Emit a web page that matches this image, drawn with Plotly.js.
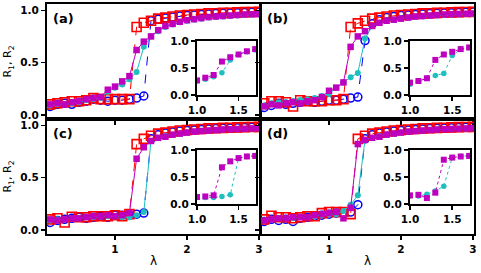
<!DOCTYPE html>
<html>
<head>
<meta charset="utf-8">
<script src="https://cdn.plot.ly/plotly-3.0.1.min.js"></script>
<style>html,body{margin:0;padding:0;background:#fff;}#chart{width:481px;height:273px;}</style>
</head>
<body>
<div id="chart"></div>
<script>
// lambda values (0.1 ... 3.0)
var lambda = [0.1,0.2,0.3,0.4,0.5,0.6,0.7,0.8,0.9,1.0,1.1,1.2,1.3,1.4,1.5,1.6,1.7,1.8,1.9,2.0,2.1,2.2,2.3,2.4,2.5,2.6,2.7,2.8,2.9,3.0];
var insetLambda = [1.0,1.1,1.2,1.3,1.4,1.5,1.6,1.7];

// panel (a)
var aBlue    = [0.08,0.10,0.11,0.10,0.12,0.13,0.15,0.14,0.13,0.14,0.14,0.15,0.16,0.18,0.90,0.915,0.925,0.935,0.945,0.95,0.955,0.96,0.965,0.968,0.971,0.974,0.977,0.979,0.981,0.983];
var aRed     = [0.10,0.11,0.12,0.13,0.13,0.14,0.16,0.15,0.15,0.15,0.15,0.15,0.84,0.88,0.90,0.92,0.93,0.94,0.95,0.955,0.96,0.965,0.97,0.972,0.975,0.977,0.98,0.982,0.984,0.985];
var aCyan    = [0.09,0.10,0.10,0.11,0.12,0.14,0.15,0.16,0.22,0.26,0.29,0.34,0.41,0.65,0.75,0.80,0.84,0.865,0.885,0.90,0.91,0.92,0.93,0.935,0.94,0.945,0.95,0.955,0.958,0.96];
var aMagenta = [0.10,0.11,0.10,0.12,0.13,0.15,0.16,0.17,0.24,0.27,0.32,0.37,0.62,0.70,0.75,0.81,0.85,0.87,0.89,0.905,0.915,0.925,0.935,0.94,0.945,0.95,0.955,0.96,0.962,0.965];

// panel (b)
var bBlue    = [0.07,0.09,0.11,0.10,0.11,0.12,0.13,0.12,0.13,0.14,0.14,0.15,0.16,0.17,0.71,0.87,0.91,0.93,0.94,0.95,0.955,0.96,0.965,0.968,0.971,0.974,0.977,0.979,0.981,0.983];
var bRed     = [0.11,0.13,0.13,0.12,0.08,0.14,0.13,0.13,0.13,0.14,0.14,0.15,0.84,0.875,0.90,0.92,0.93,0.94,0.95,0.955,0.96,0.965,0.97,0.972,0.975,0.977,0.98,0.982,0.984,0.985];
var bCyan    = [0.09,0.11,0.12,0.12,0.13,0.14,0.15,0.16,0.18,0.20,0.26,0.31,0.36,0.40,0.73,0.85,0.88,0.90,0.91,0.92,0.93,0.935,0.94,0.945,0.95,0.955,0.958,0.96,0.963,0.965];
var bMagenta = [0.08,0.10,0.09,0.11,0.12,0.11,0.13,0.14,0.17,0.23,0.26,0.31,0.65,0.75,0.80,0.85,0.88,0.90,0.91,0.92,0.93,0.94,0.945,0.95,0.955,0.96,0.963,0.965,0.967,0.97];

// panel (c)
var cBlue    = [0.07,0.09,0.10,0.11,0.12,0.11,0.12,0.13,0.12,0.14,0.14,0.14,0.15,0.16,0.87,0.91,0.925,0.935,0.945,0.95,0.955,0.96,0.965,0.968,0.971,0.974,0.977,0.979,0.981,0.983];
var cRed     = [0.10,0.11,0.07,0.125,0.12,0.12,0.13,0.13,0.13,0.14,0.13,0.15,0.82,0.87,0.90,0.92,0.93,0.94,0.95,0.955,0.96,0.965,0.97,0.972,0.975,0.977,0.98,0.982,0.984,0.985];
var cCyan    = [0.09,0.10,0.10,0.11,0.11,0.12,0.12,0.13,0.13,0.13,0.12,0.12,0.14,0.17,0.85,0.88,0.90,0.91,0.92,0.93,0.94,0.945,0.95,0.955,0.96,0.963,0.965,0.967,0.97,0.972];
var cMagenta = [0.10,0.09,0.10,0.11,0.11,0.12,0.13,0.13,0.14,0.13,0.14,0.16,0.68,0.79,0.85,0.88,0.89,0.91,0.92,0.93,0.94,0.945,0.95,0.955,0.96,0.963,0.965,0.967,0.97,0.972];

// panel (d)
var dBlue    = [0.08,0.10,0.09,0.10,0.08,0.11,0.12,0.13,0.14,0.15,0.16,0.16,0.17,0.24,0.87,0.91,0.925,0.935,0.945,0.95,0.955,0.96,0.965,0.968,0.971,0.974,0.977,0.979,0.981,0.983];
var dRed     = [0.10,0.135,0.12,0.12,0.11,0.12,0.13,0.13,0.16,0.17,0.17,0.17,0.15,0.87,0.90,0.92,0.93,0.94,0.95,0.955,0.96,0.965,0.97,0.972,0.975,0.977,0.98,0.982,0.984,0.985];
var dCyan    = [0.09,0.10,0.11,0.11,0.11,0.12,0.12,0.13,0.14,0.15,0.15,0.18,0.24,0.33,0.86,0.88,0.90,0.91,0.92,0.93,0.94,0.945,0.95,0.955,0.96,0.963,0.965,0.967,0.97,0.972];
var dMagenta = [0.09,0.10,0.11,0.11,0.12,0.12,0.12,0.14,0.15,0.16,0.17,0.11,0.21,0.82,0.86,0.88,0.89,0.91,0.92,0.93,0.94,0.945,0.95,0.955,0.96,0.963,0.965,0.967,0.97,0.972];

var panelLabels = ['(a)','(b)','(c)','(d)'];
var xTickVals = [1,2,3];
var yTickVals = [0,0.5,1];
var insetXTicks = [1.0,1.5];
var insetYTicks = [0,0.5,1.0];

var COL = {blue:'#0000ff', red:'#ff0000', cyan:'#1fbfbf', mag:'#bf00bf'};
var panels = [
  {b:aBlue,r:aRed,c:aCyan,m:aMagenta},
  {b:bBlue,r:bRed,c:bCyan,m:bMagenta},
  {b:cBlue,r:cRed,c:cCyan,m:cMagenta},
  {b:dBlue,r:dRed,c:dCyan,m:dMagenta}
];

function sub(arr){ // values for lambda in the inset range
  var out=[]; for(var i=0;i<lambda.length;i++){ if(lambda[i]>=0.999 && lambda[i]<=1.701) out.push(arr[i]); } return out;
}

var traces=[];
panels.forEach(function(p,k){
  var xa = k===0?'x':'x'+(k+1), ya = k===0?'y':'y'+(k+1);
  traces.push({x:lambda,y:p.b,xaxis:xa,yaxis:ya,mode:'lines+markers',
    line:{color:COL.blue,width:1,dash:'dash'},
    marker:{symbol:'circle-open',size:8,color:COL.blue,line:{width:1.5,color:COL.blue}}});
  traces.push({x:lambda,y:p.r,xaxis:xa,yaxis:ya,mode:'lines+markers',
    line:{color:COL.red,width:1,dash:'dash'},
    marker:{symbol:'square-open',size:9,color:COL.red,line:{width:1.6,color:COL.red}}});
  traces.push({x:lambda,y:p.c,xaxis:xa,yaxis:ya,mode:'lines+markers',
    line:{color:COL.cyan,width:1},
    marker:{symbol:'circle',size:6,color:COL.cyan}});
  traces.push({x:lambda,y:p.m,xaxis:xa,yaxis:ya,mode:'lines+markers',
    line:{color:COL.mag,width:1},
    marker:{symbol:'square',size:6.5,color:COL.mag}});
  // inset
  var xi='x'+(k+5), yi='y'+(k+5);
  traces.push({x:insetLambda,y:sub(p.c),xaxis:xi,yaxis:yi,mode:'lines+markers',
    line:{color:COL.cyan,width:1,dash:'dot'},marker:{symbol:'circle',size:5.5,color:COL.cyan}});
  traces.push({x:insetLambda,y:sub(p.m),xaxis:xi,yaxis:yi,mode:'lines+markers',
    line:{color:COL.mag,width:1,dash:'dot'},marker:{symbol:'square',size:6,color:COL.mag}});
});

var FONT='DejaVu Sans';
var tickFont={family:FONT,size:10.5,color:'#000',weight:'bold'};
function mainX(dom,labels,anchor){
  var ax = {domain:dom,anchor:anchor,range:[0.055,3.014],tickvals:xTickVals,ticktext:['1','2','3'],
    showticklabels:labels,ticks:'outside',ticklen:4,tickwidth:1.5,tickcolor:'#000',
    showline:true,mirror:true,linewidth:2,linecolor:'#000',showgrid:false,zeroline:false,tickfont:tickFont};
  if(labels) ax.title={text:'λ',font:{family:FONT,size:12,color:'#000'},standoff:3};
  return ax;
}
function mainY(dom,labels,anchor){
  var ax = {domain:dom,anchor:anchor,range:[-0.04,1.06],tickvals:yTickVals,ticktext:['0.0','0.5','1.0'],
    showticklabels:labels,ticks:'outside',ticklen:4,tickwidth:1.5,tickcolor:'#000',
    showline:true,mirror:true,linewidth:2,linecolor:'#000',showgrid:false,zeroline:false,tickfont:tickFont};
  if(labels) ax.title={text:'R<sub>1</sub>, R<sub>2</sub>',font:{family:FONT,size:11,color:'#000'},standoff:6};
  return ax;
}
function insX(dom,anchor){
  return {domain:dom,anchor:anchor,range:[1.0,1.71],tickvals:insetXTicks,ticktext:['1.0','1.5'],
    ticks:'outside',ticklen:4,tickwidth:1.5,tickcolor:'#000',showline:true,mirror:true,linewidth:2,linecolor:'#000',
    showgrid:false,zeroline:false,tickfont:tickFont};
}
function insY(dom,anchor){
  return {domain:dom,anchor:anchor,range:[0,1],tickvals:insetYTicks,ticktext:['0.0','0.5','1.0'],
    ticks:'outside',ticklen:4,tickwidth:1.5,tickcolor:'#000',showline:true,mirror:true,linewidth:2,linecolor:'#000',
    showgrid:false,zeroline:false,tickfont:tickFont};
}

var L=[0,0.4988], R=[0.5012,1], T=[0.5,1], B=[0,0.5];
var insXL=[0.3513,0.4895], insXR=[0.8501,0.9906];
var insYT=[0.6043,0.8391], insYB=[0.1304,0.3652];

var annotations = panelLabels.map(function(t,k){
  var xa = k===0?'x':'x'+(k+1), ya = k===0?'y':'y'+(k+1);
  return {text:'<b>'+t+'</b>',xref:xa+' domain',yref:ya+' domain',x:0.02,y:0.955,xanchor:'left',yanchor:'top',
    showarrow:false,font:{family:FONT,size:13,color:'#000'}};
});

var layout={
  width:481,height:273,margin:{l:47,r:7,t:4,b:39},
  paper_bgcolor:'#fff',plot_bgcolor:'rgba(0,0,0,0)',showlegend:false,
  font:{family:FONT,size:11,color:'#000'},
  xaxis:mainX(L,false,'y'), yaxis:mainY(T,true,'x'),
  xaxis2:mainX(R,false,'y2'), yaxis2:mainY(T,false,'x2'),
  xaxis3:mainX(L,true,'y3'), yaxis3:mainY(B,true,'x3'),
  xaxis4:mainX(R,true,'y4'), yaxis4:mainY(B,false,'x4'),
  xaxis5:insX(insXL,'y5'), yaxis5:insY(insYT,'x5'),
  xaxis6:insX(insXR,'y6'), yaxis6:insY(insYT,'x6'),
  xaxis7:insX(insXL,'y7'), yaxis7:insY(insYB,'x7'),
  xaxis8:insX(insXR,'y8'), yaxis8:insY(insYB,'x8'),
  annotations:annotations
};
Plotly.newPlot('chart',traces,layout,{staticPlot:true,displayModeBar:false});
</script>
</body>
</html>
